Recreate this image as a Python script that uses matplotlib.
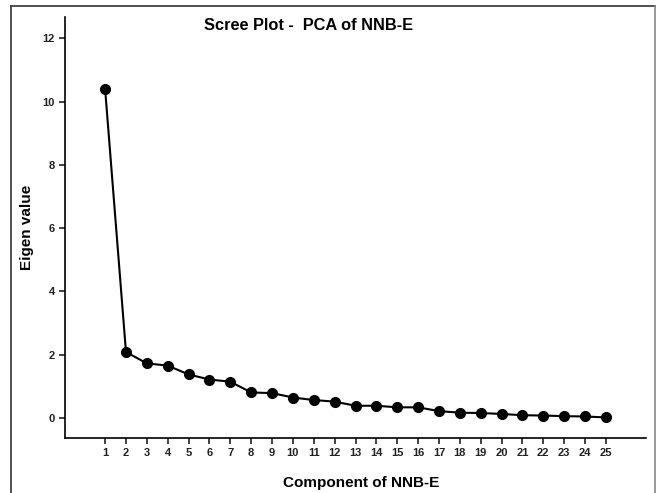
import matplotlib
matplotlib.use("Agg")
import matplotlib.pyplot as plt
from matplotlib.lines import Line2D

plt.rcParams['font.family'] = ['Liberation Sans', 'DejaVu Sans']

# eigenvalues
components = list(range(1, 26))
eigenvalues = [10.40, 2.08, 1.72, 1.65, 1.37, 1.21, 1.14, 0.80, 0.78, 0.64,
               0.56, 0.51, 0.38, 0.38, 0.33, 0.33, 0.21, 0.16, 0.15, 0.12,
               0.08, 0.07, 0.05, 0.04, 0.01]
y_ticks = [0, 2, 4, 6, 8, 10, 12]

fig = plt.figure(figsize=(6.57, 4.93), dpi=100)
ax = fig.add_axes([0.099, 0.1116, 0.8843, 0.854])

ax.plot(components, eigenvalues, color="black", lw=1.5, marker="o",
        markersize=7, markerfacecolor="black", markeredgecolor="black")

ax.set_xlim(-0.92, 26.92)
ax.set_ylim(-0.64, 12.68)
ax.set_xticks(components)
ax.set_yticks(y_ticks)
ax.tick_params(axis="both", labelsize=8, length=4, width=1.2, direction="out",
               colors="#222222")
for lab in ax.get_xticklabels() + ax.get_yticklabels():
    lab.set_fontweight("bold")

ax.spines["top"].set_visible(False)
ax.spines["right"].set_visible(False)
ax.spines["left"].set_linewidth(1.2)
ax.spines["bottom"].set_linewidth(1.2)

ax.set_xlabel("Component of NNB-E", fontsize=11, fontweight="bold")
ax.set_ylabel("Eigen value", fontsize=11, fontweight="bold")
ax.xaxis.set_label_coords(0.51, -0.09)
ax.yaxis.set_label_coords(-0.054, 0.5)
fig.text(0.469, 0.949, "Scree Plot -  PCA of NNB-E", fontsize=11.8,
         fontweight="bold", ha="center", va="center")

# outer frame around the figure (top, left, right only)
fig.add_artist(Line2D([11 / 657, 11 / 657], [0, 1 - 6 / 493], color="#333333", lw=1.2))
fig.add_artist(Line2D([11 / 657, 655 / 657], [1 - 6 / 493, 1 - 6 / 493], color="#333333", lw=1.2))
fig.add_artist(Line2D([655 / 657, 655 / 657], [0, 1 - 6 / 493], color="#888888", lw=1.2))

fig.savefig("out.png", dpi=100)
